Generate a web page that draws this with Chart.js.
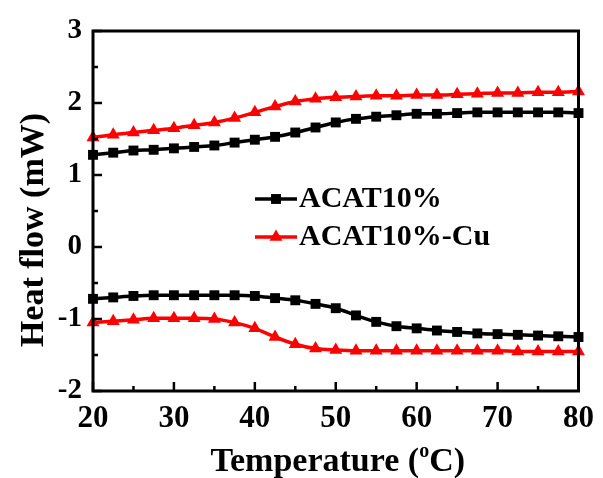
<!DOCTYPE html>
<html>
<head>
<meta charset="utf-8">
<script src="https://cdn.jsdelivr.net/npm/chart.js@4.4.0/dist/chart.umd.min.js"></script>
<style>
html,body{margin:0;padding:0;background:#fff;}
#wrap{width:603px;height:478px;position:relative;}
</style>
</head>
<body>
<div id="wrap"><canvas id="c" width="603" height="478"></canvas></div>
<script>
// ---- data ----
const temps = [20,22.5,25,27.5,30,32.5,35,37.5,40,42.5,45,47.5,50,52.5,55,57.5,60,62.5,65,67.5,70,72.5,75,77.5,80];
const acatUpper = [1.28,1.31,1.34,1.35,1.37,1.39,1.41,1.45,1.49,1.53,1.59,1.66,1.73,1.78,1.81,1.83,1.85,1.85,1.86,1.87,1.87,1.87,1.87,1.87,1.86];
const acatLower = [-0.72,-0.70,-0.68,-0.67,-0.67,-0.67,-0.67,-0.67,-0.68,-0.71,-0.74,-0.79,-0.85,-0.95,-1.04,-1.10,-1.13,-1.16,-1.18,-1.20,-1.21,-1.22,-1.23,-1.24,-1.25];
const cuUpper = [1.52,1.56,1.59,1.62,1.65,1.69,1.73,1.79,1.87,1.95,2.02,2.06,2.08,2.09,2.10,2.10,2.11,2.11,2.12,2.13,2.14,2.14,2.15,2.15,2.16];
const cuLower = [-1.05,-1.03,-1.01,-0.99,-0.99,-0.99,-1.00,-1.05,-1.13,-1.25,-1.35,-1.41,-1.43,-1.44,-1.44,-1.44,-1.44,-1.44,-1.44,-1.44,-1.44,-1.45,-1.45,-1.45,-1.45];
const seriesNames = ['ACAT10%','ACAT10%-Cu'];
const xTitle = ['Temperature (', 'o', 'C)'];
const yTitle = 'Heat flow (mW)';
const xRange = [20, 80];
const yRange = [-2, 3];

const FONT = '"Liberation Serif","Times New Roman",serif';
const BLACK = '#000000';
const RED = '#ff0000';

function pts(vals){ return temps.map((t,i)=>({x:t,y:vals[i]})); }
function ds(vals,color,style){
  return {data:pts(vals),borderColor:color,backgroundColor:color,borderWidth:3.5,
    pointStyle:style,pointRadius:style==='rect'?7:7.5,pointBorderWidth:0,
    pointBackgroundColor:color,cubicInterpolationMode:'monotone',clip:false};
}

const framePlugin = {
  id:'frame',
  afterDraw(chart){
    const {ctx, chartArea:a, scales:{x,y}} = chart;
    ctx.save();
    ctx.strokeStyle = '#000';
    // ticks
    ctx.lineWidth = 2.5;
    for(let v=xRange[0]; v<=xRange[1]+1e-9; v+=5){
      const px = x.getPixelForValue(v);
      const major = (v%10===0);
      ctx.beginPath();
      ctx.moveTo(px, a.bottom);
      ctx.lineTo(px, a.bottom-(major?9:5));
      ctx.stroke();
    }
    for(let v=yRange[0]; v<=yRange[1]+1e-9; v+=0.5){
      const py = y.getPixelForValue(v);
      const major = Math.abs(v-Math.round(v))<1e-9;
      ctx.beginPath();
      ctx.moveTo(a.left, py);
      ctx.lineTo(a.left+(major?9:5), py);
      ctx.stroke();
    }
    // frame
    ctx.lineWidth = 3;
    ctx.strokeRect(a.left, a.top, a.right-a.left, a.bottom-a.top);

    // legend
    const leg = [[seriesNames[0],BLACK,'rect',7,199],[seriesNames[1],RED,'triangle',7.5,237]];
    leg.forEach(([name,col,style,r,ly])=>{
      ctx.strokeStyle=col; ctx.fillStyle=col; ctx.lineWidth=3.5;
      ctx.beginPath(); ctx.moveTo(255,ly); ctx.lineTo(297,ly); ctx.stroke();
      Chart.helpers.drawPoint(ctx,{pointStyle:style,radius:r,rotation:0,borderWidth:0},276,ly);
      ctx.fillStyle='#000';
      ctx.font='bold 30px '+FONT;
      ctx.textAlign='left'; ctx.textBaseline='alphabetic';
      ctx.fillText(name,299,ly+8);
    });

    // x title
    ctx.fillStyle='#000';
    ctx.textBaseline='alphabetic';
    const big='bold 34px '+FONT, small='bold 20px '+FONT;
    ctx.font=big; const w1=ctx.measureText(xTitle[0]).width, w3=ctx.measureText(xTitle[2]).width;
    ctx.font=small; const w2=ctx.measureText(xTitle[1]).width;
    const total=w1+w2+w3;
    let sx=(a.left+a.right)/2 - total/2 + 2;
    const base=471;
    ctx.textAlign='left';
    ctx.font=big; ctx.fillText(xTitle[0],sx,base);
    ctx.font=small; ctx.fillText(xTitle[1],sx+w1,base-14);
    ctx.font=big; ctx.fillText(xTitle[2],sx+w1+w2,base);

    // y title
    ctx.save();
    ctx.translate(43,230);
    ctx.rotate(-Math.PI/2);
    ctx.font='bold 34px '+FONT;
    ctx.textAlign='center'; ctx.textBaseline='alphabetic';
    ctx.fillText(yTitle,0,0);
    ctx.restore();
    ctx.restore();
  }
};

new Chart(document.getElementById('c'),{
  type:'line',
  data:{datasets:[
    ds(acatUpper,BLACK,'rect'),
    ds(acatLower,BLACK,'rect'),
    ds(cuUpper,RED,'triangle'),
    ds(cuLower,RED,'triangle')
  ]},
  options:{
    responsive:false,animation:false,
    layout:{padding:{top:31,right:18,left:0,bottom:0}},
    plugins:{legend:{display:false},tooltip:{enabled:false}},
    scales:{
      x:{type:'linear',min:xRange[0],max:xRange[1],
        grid:{display:false,drawTicks:false},border:{display:false},
        ticks:{stepSize:10,padding:9,color:'#000',font:{family:FONT,size:31,weight:'bold'},maxRotation:0},
        afterFit(s){s.height=87;}
      },
      y:{type:'linear',min:yRange[0],max:yRange[1],
        grid:{display:false,drawTicks:false},border:{display:false},
        ticks:{stepSize:1,padding:11,color:'#000',font:{family:FONT,size:29,weight:'bold'}},
        afterFit(s){s.width=93;}
      }
    }
  },
  plugins:[framePlugin]
});
</script>
</body>
</html>
